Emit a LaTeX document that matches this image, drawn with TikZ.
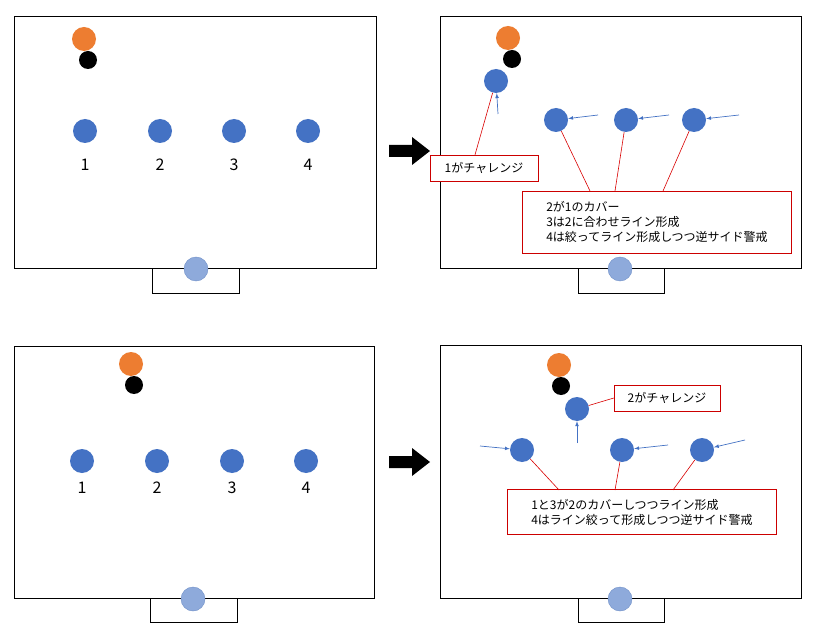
\documentclass[tikz,border=0pt]{standalone}
\usepackage{fontspec}
\setmainfont{Noto Sans CJK JP}
\begin{document}
\begin{tikzpicture}[x=1pt,y=-1pt,
  field/.style={draw=black,fill=white,line width=0.8pt},
  pl/.style={circle,fill=blue!55!black!60!cyan,minimum size=24pt,inner sep=0},
  opp/.style={circle,fill=orange!80!red!90,minimum size=24pt,inner sep=0},
  ball/.style={circle,fill=black,minimum size=18pt,inner sep=0},
  gk/.style={circle,fill=gkc,draw=gkd,minimum size=24pt,inner sep=0},
  num/.style={font=\fontsize{16}{16}\selectfont},
  lab/.style={draw=red!80!black,fill=white,align=left,font=\fontsize{12}{15}\selectfont,inner sep=5pt},
  ln/.style={red!85!black,line width=0.6pt},
  mv/.style={-latex,draw=pc,line width=0.7pt},
  big/.style={fill=black}]
\definecolor{pc}{HTML}{4472C4}
\definecolor{oc}{HTML}{ED7D31}
\definecolor{gkc}{HTML}{8EAADB}
\definecolor{gkd}{HTML}{6F8FC8}
\tikzset{pl/.append style={fill=pc},opp/.append style={fill=oc}}
\useasboundingbox (0,0) rectangle (816,636);
\fill[white] (0,0) rectangle (816,636);
% TL
\draw[field] (14,16) rectangle (376,268);
\draw[field] (152,268) rectangle (239,293);
\node[gk] (k1) at (196,269) {};
\node[opp] (o1) at (84,39) {};
\node[ball] (b1) at (88,60) {};
\foreach \i/\x in {1/85,2/160,3/234,4/308}{
  \node[pl] (a\i) at (\x,131) {};
  \node[num] (an\i) at (\x,165) {\i};}
% TR
\draw[field] (440,16) rectangle (801,268);
\draw[field] (578,268) rectangle (664,293);
\node[gk] (k2) at (620,269) {};
\node[opp] (o2) at (508,38) {};
\node[ball] (b2) at (512,59) {};
\node[pl] (c1) at (496,81) {};
\node[pl] (c2) at (556,120) {};
\node[pl] (c3) at (626,120) {};
\node[pl] (c4) at (694,120) {};
\coordinate (m1) at (498,114); \coordinate (m2) at (598,115);
\coordinate (m3) at (669,115); \coordinate (m4) at (739,115);
\draw[mv] (m1) -- (c1);
\draw[mv] (m2) -- (c2);
\draw[mv] (m3) -- (c3);
\draw[mv] (m4) -- (c4);
\node[lab,minimum width=108pt,minimum height=26pt] (L1) at (484,168) {1がチャレンジ};
\node[lab,minimum width=269pt,minimum height=62pt] (L2) at (657,222) {2が1のカバー\\3は2に合わせライン形成\\4は絞ってライン形成しつつ逆サイド警戒};
\draw[ln] (c1) -- (L1.north west -| 475,0);
\draw[ln] (c2) -- (590,191);
\draw[ln] (c3) -- (615,191);
\draw[ln] (c4) -- (663,191);
% BL
\draw[field] (14,346) rectangle (374,598);
\draw[field] (150,598) rectangle (237,622);
\node[gk] (k3) at (193,599) {};
\node[opp] (o3) at (131,364) {};
\node[ball] (b3) at (134,385) {};
\foreach \i/\x in {1/82,2/157,3/232,4/306}{
  \node[pl] (d\i) at (\x,461) {};
  \node[num] (dn\i) at (\x,488) {\i};}
% BR
\draw[field] (440,345) rectangle (801,598);
\draw[field] (578,598) rectangle (664,622);
\node[gk] (k4) at (620,599) {};
\node[opp] (o4) at (559,365) {};
\node[ball] (b4) at (561,386) {};
\node[pl] (e2) at (577,409) {};
\node[pl] (e1) at (522,450) {};
\node[pl] (e3) at (622,450) {};
\node[pl] (e4) at (702,450) {};
\coordinate (n2) at (577,443); \coordinate (n1) at (480,446);
\coordinate (n3) at (668,445); \coordinate (n4) at (745,440);
\draw[mv] (n2) -- (e2);
\draw[mv] (n1) -- (e1);
\draw[mv] (n3) -- (e3);
\draw[mv] (n4) -- (e4);
\node[lab,minimum width=106pt,minimum height=26pt] (M1) at (667,398) {2がチャレンジ};
\node[lab,minimum width=269pt,minimum height=45pt] (M2) at (642,512) {1と3が2のカバーしつつライン形成\\4はライン絞って形成しつつ逆サイド警戒};
\draw[ln] (e2) -- (M1.west);
\draw[ln] (e1) -- (559,490);
\draw[ln] (e3) -- (615,490);
\draw[ln] (e4) -- (673,490);
% big arrows
\fill[big] (389,145) -- (412,145) -- (412,137) -- (430,151) -- (412,165) -- (412,157) -- (389,157) -- cycle;
\fill[big] (389,456) -- (412,456) -- (412,448) -- (430,462) -- (412,476) -- (412,468) -- (389,468) -- cycle;
\end{tikzpicture}
\end{document}
